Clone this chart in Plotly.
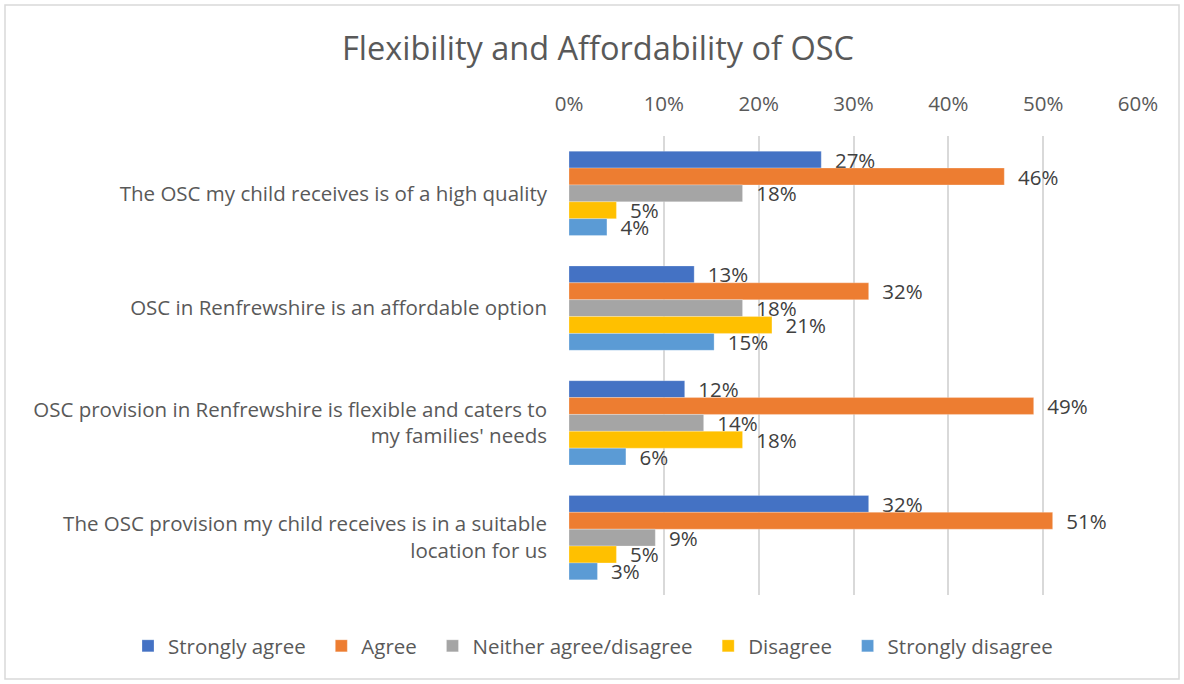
import plotly.graph_objects as go

categories = [
    "The OSC my child receives is of a high quality",
    "OSC in Renfrewshire is an affordable option",
    "OSC provision in Renfrewshire is flexible and caters to<br>my families' needs",
    "The OSC provision my child receives is in a suitable<br>location for us",
]

strongly_agree = [0.266, 0.132, 0.122, 0.316]
agree = [0.459, 0.316, 0.490, 0.510]
neither = [0.183, 0.183, 0.142, 0.091]
disagree = [0.050, 0.214, 0.183, 0.050]
strongly_disagree = [0.040, 0.153, 0.060, 0.030]

series = [
    ("Strongly agree", strongly_agree, "#4472C4"),
    ("Agree", agree, "#ED7D31"),
    ("Neither agree/disagree", neither, "#A5A5A5"),
    ("Disagree", disagree, "#FFC000"),
    ("Strongly disagree", strongly_disagree, "#5B9BD5"),
]

FONT = "Open Sans"
GREY = "#595959"
FS = 20.5
PAD = "\u00a0\u00a0"  # extra room between legend entries

fig = go.Figure()
for name, vals, color in series:
    fig.add_bar(
        y=categories,
        x=vals,
        name=name + PAD,
        orientation="h",
        marker=dict(color=color, line=dict(color="rgba(255,255,255,0.5)", width=0.5)),
        texttemplate="\u00a0\u00a0%{x:.0%}",
        textposition="outside",
        constraintext="none",
        textfont=dict(size=FS, color="#404040", family=FONT),
        cliponaxis=False,
    )

# plot area in pixels
W, H = 1184, 684
L, R, T, B = 569, 1138, 136, 595
pw, ph = R - L, B - T

fig.update_layout(
    width=W,
    height=H,
    margin=dict(l=L, r=W - R, t=T, b=H - B, autoexpand=False),
    paper_bgcolor="white",
    plot_bgcolor="white",
    barmode="group",
    bargap=0.265,
    bargroupgap=0,
    font=dict(family=FONT, color=GREY, size=FS),
    title=dict(
        text="Flexibility and Affordability of OSC",
        x=598 / W,
        xanchor="center",
        y=1 - 49 / H,
        yanchor="middle",
        font=dict(size=32.5, color=GREY, family=FONT),
    ),
    legend=dict(
        orientation="h",
        xref="paper",
        yref="paper",
        x=(128 - L) / pw,
        xanchor="left",
        y=(B - 646) / ph,
        yanchor="middle",
        font=dict(size=FS, color=GREY),
        traceorder="normal",
        itemwidth=30,
        bgcolor="rgba(0,0,0,0)",
    ),
    shapes=[
        dict(
            type="rect",
            xref="paper",
            yref="paper",
            x0=(5 - L) / pw,
            x1=(1179 - L) / pw,
            y0=(B - 679) / ph,
            y1=(B - 5) / ph,
            line=dict(color="#D9D9D9", width=1.5),
            layer="below",
        )
    ],
)

fig.update_xaxes(
    side="top",
    range=[0, 0.6],
    dtick=0.1,
    tickformat=".0%",
    showgrid=True,
    gridcolor="#D9D9D9",
    gridwidth=1.5,
    zeroline=False,
    showline=False,
    ticks="",
    tickfont=dict(size=FS, color=GREY),
    ticklabelstandoff=20,
)
fig.update_yaxes(
    autorange="reversed",
    showgrid=False,
    showline=False,
    ticks="",
    tickfont=dict(size=FS, color=GREY),
    ticklabelstandoff=21,
)

fig.write_html(
    "out.html",
    config={"displayModeBar": False},
    post_script="document.body.style.margin='0';",
)
